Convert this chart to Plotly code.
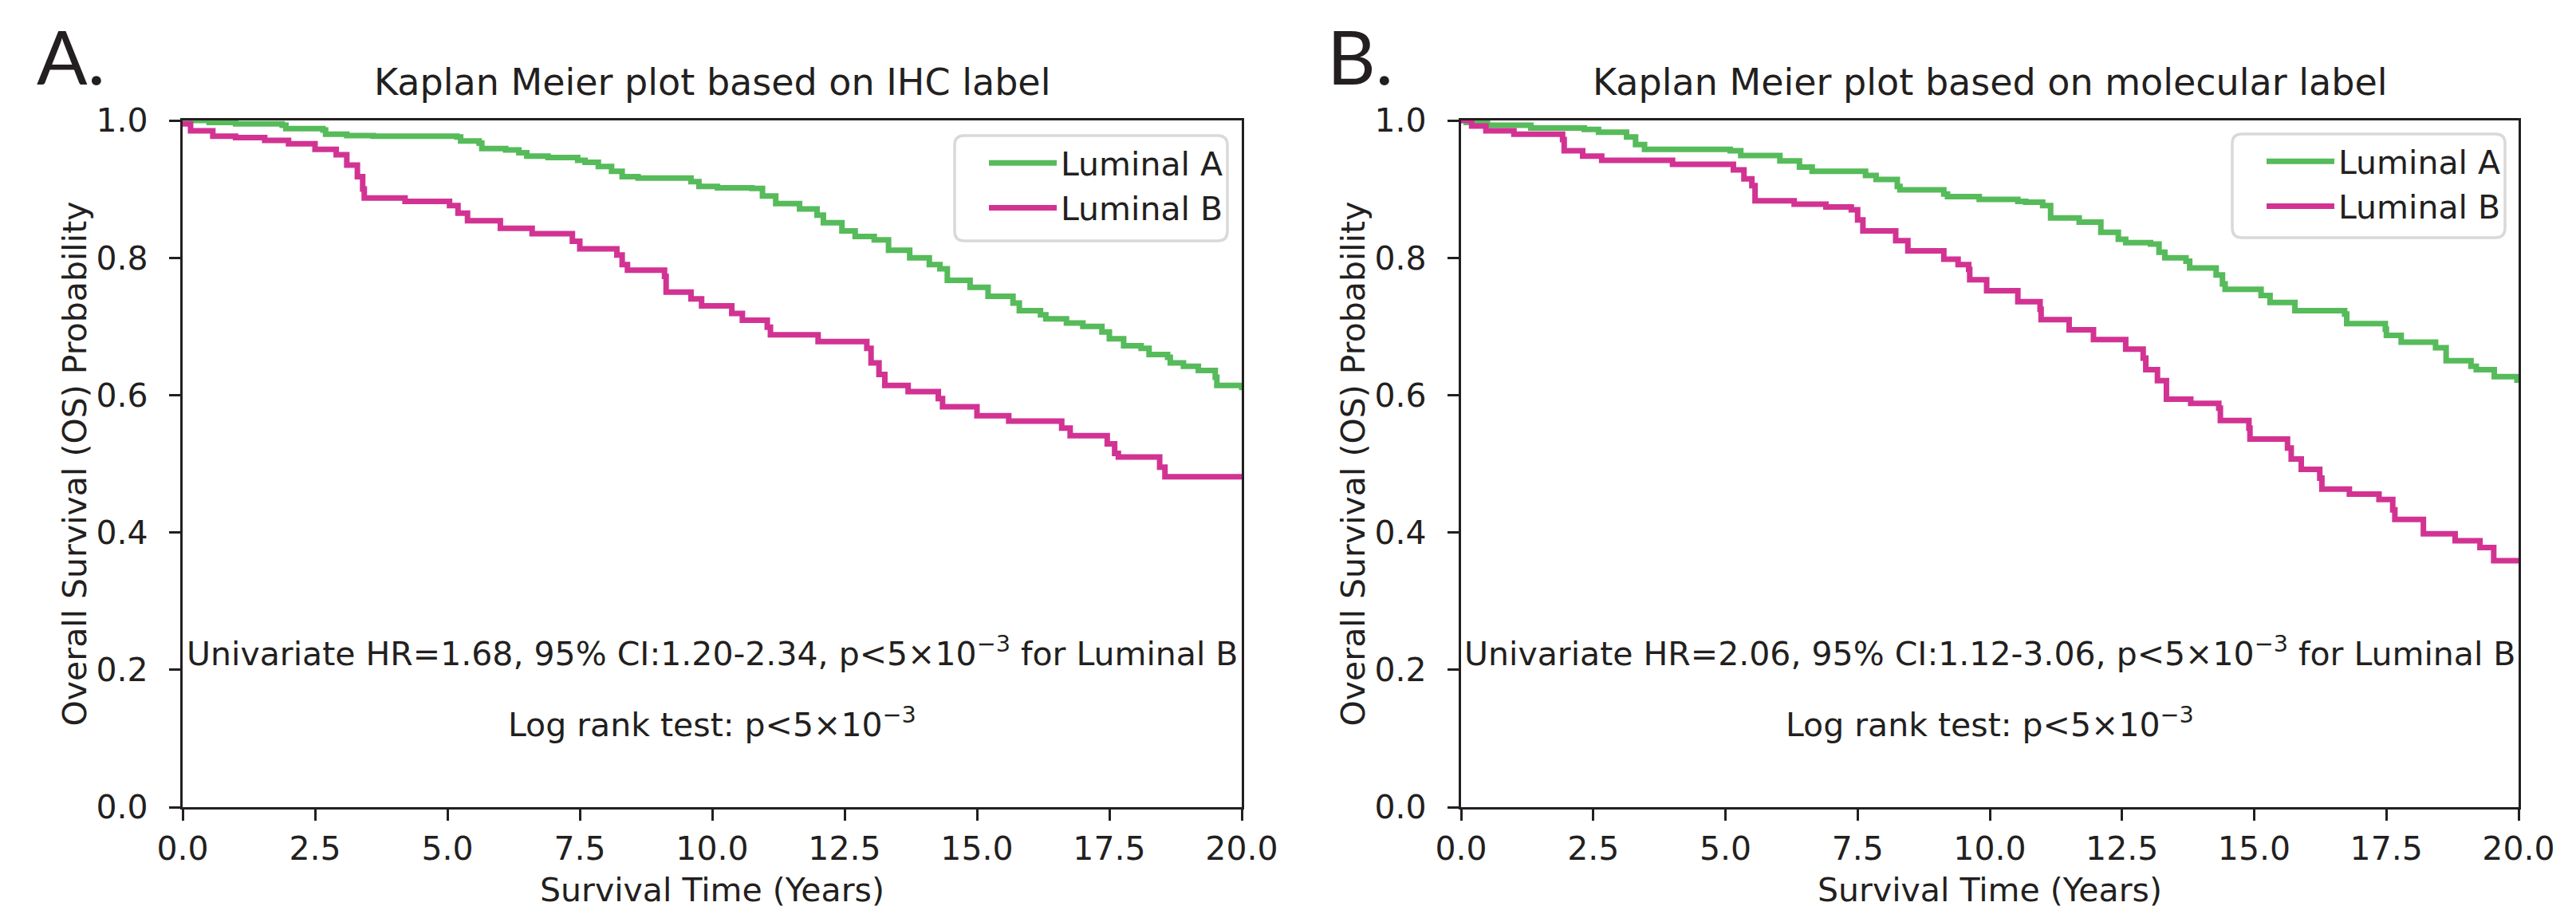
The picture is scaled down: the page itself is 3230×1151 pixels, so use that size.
import plotly.graph_objects as go

# ---------------- data ----------------
# Panel A: IHC label
a_lumA_t = [0, 0.5, 1.0, 1.88, 1.95, 2.65, 2.7, 3.1, 3.6, 4.3, 5.18, 5.25, 5.6, 5.65, 6.1, 6.35, 6.5, 6.9,
            7.46, 7.6, 7.85, 8.1, 8.3, 8.6, 9.6, 9.75, 10.1, 10.75, 10.95, 11.2, 11.65, 11.98, 12.1, 12.45,
            12.7, 13.06, 13.33, 13.73, 14.1, 14.3, 14.44, 14.87, 15.21, 15.68, 15.8, 16.2, 16.3, 16.69, 17.0,
            17.36, 17.5, 17.77, 18.1, 18.25, 18.6, 18.65, 18.9, 19.18, 19.5, 19.53, 19.95, 20.0]
a_lumA_s = [1.0, 0.997, 0.995, 0.993, 0.988, 0.986, 0.980, 0.978, 0.977, 0.977, 0.976, 0.970, 0.967, 0.959,
            0.957, 0.953, 0.948, 0.946, 0.942, 0.939, 0.933, 0.926, 0.918, 0.916, 0.911, 0.904, 0.902, 0.901,
            0.890, 0.879, 0.871, 0.862, 0.851, 0.839, 0.831, 0.826, 0.811, 0.800, 0.790, 0.784, 0.767, 0.757,
            0.744, 0.734, 0.723, 0.717, 0.711, 0.705, 0.700, 0.692, 0.682, 0.672, 0.668, 0.659, 0.655, 0.647,
            0.642, 0.636, 0.626, 0.614, 0.614, 0.607]

a_lumB_t = [0, 0.15, 0.57, 1.0, 1.55, 2.0, 2.5, 2.9, 3.1, 3.3, 3.4, 3.43, 4.2, 5.04, 5.2, 5.38, 6.0, 6.6,
            7.36, 7.5, 8.2, 8.3, 8.4, 9.1, 9.13, 9.6, 9.8, 10.37, 10.57, 11.04, 11.1, 12.0, 12.92, 13.0,
            13.15, 13.26, 13.7, 14.27, 14.35, 15.0, 15.6, 16.49, 16.6, 16.76, 17.46, 17.6, 17.67, 18.3,
            18.45, 18.55, 20.0]
a_lumB_s = [0.995, 0.985, 0.977, 0.975, 0.971, 0.966, 0.958, 0.950, 0.935, 0.918, 0.900, 0.887, 0.882,
            0.876, 0.865, 0.854, 0.843, 0.835, 0.824, 0.813, 0.804, 0.790, 0.782, 0.773, 0.750, 0.740,
            0.730, 0.719, 0.709, 0.699, 0.688, 0.678, 0.668, 0.647, 0.630, 0.614, 0.605, 0.595, 0.583,
            0.570, 0.562, 0.562, 0.552, 0.541, 0.529, 0.515, 0.510, 0.510, 0.495, 0.481, 0.481]

# Panel B: molecular label
b_lumA_t = [0, 0.1, 0.5, 1.32, 2.33, 2.6, 3.13, 3.3, 3.47, 5.09, 5.29, 6.03, 6.4, 6.64, 7.65, 7.85, 8.25,
            8.3, 9.13, 9.2, 9.8, 10.53, 10.68, 11.0, 11.15, 11.69, 12.1, 12.43, 12.57, 13.04, 13.2, 13.31,
            13.71, 13.78, 14.28, 14.4, 14.45, 15.13, 15.3, 15.77, 16.71, 16.75, 17.48, 17.5, 17.78, 18.43,
            18.63, 19.1, 19.2, 19.54, 19.97, 20.0]
b_lumA_s = [1.0, 0.997, 0.993, 0.989, 0.987, 0.983, 0.976, 0.965, 0.958, 0.956, 0.949, 0.941, 0.932,
            0.926, 0.920, 0.914, 0.904, 0.899, 0.893, 0.889, 0.885, 0.882, 0.881, 0.876, 0.858, 0.852,
            0.837, 0.827, 0.822, 0.820, 0.808, 0.800, 0.795, 0.785, 0.775, 0.762, 0.754, 0.745, 0.735,
            0.723, 0.718, 0.704, 0.696, 0.687, 0.677, 0.669, 0.650, 0.642, 0.637, 0.627, 0.622, 0.622]

b_lumB_t = [0, 0.2, 0.47, 1.0, 1.92, 1.95, 2.3, 2.66, 4.0, 5.15, 5.35, 5.5, 5.56, 6.3, 6.9, 7.38, 7.5,
            7.6, 8.22, 8.45, 9.13, 9.4, 9.6, 9.62, 9.94, 10.53, 10.95, 10.97, 11.5, 11.96, 12.57, 12.9,
            12.95, 13.17, 13.34, 13.8, 14.33, 14.36, 14.9, 14.92, 15.63, 15.7, 15.89, 16.24, 16.28, 16.8,
            17.36, 17.62, 17.66, 18.1, 18.2, 18.8, 19.27, 19.53, 20.0]
b_lumB_s = [1.0, 0.992, 0.985, 0.980, 0.972, 0.956, 0.948, 0.942, 0.936, 0.928, 0.915, 0.905, 0.883,
            0.878, 0.874, 0.870, 0.855, 0.839, 0.825, 0.810, 0.798, 0.790, 0.783, 0.768, 0.752, 0.736,
            0.725, 0.710, 0.695, 0.681, 0.667, 0.654, 0.637, 0.621, 0.594, 0.588, 0.581, 0.563, 0.552,
            0.536, 0.523, 0.507, 0.492, 0.479, 0.463, 0.456, 0.448, 0.433, 0.419, 0.419, 0.398, 0.388,
            0.378, 0.359, 0.359]

series_names = ["Luminal A", "Luminal B"]
panel_titles = ["Kaplan Meier plot based on IHC label", "Kaplan Meier plot based on molecular label"]
panel_letters = ["A.", "B."]
hr_texts = ["Univariate HR=1.68, 95% CI:1.20-2.34, p&lt;5×10<sup>−3</sup> for Luminal B",
            "Univariate HR=2.06, 95% CI:1.12-3.06, p&lt;5×10<sup>−3</sup> for Luminal B"]
logrank_texts = ["Log rank test: p&lt;5×10<sup>−3</sup>", "Log rank test: p&lt;5×10<sup>−3</sup>"]
x_ticks = [0, 2.5, 5, 7.5, 10, 12.5, 15, 17.5, 20]
x_ticktext = ["0.0", "2.5", "5.0", "7.5", "10.0", "12.5", "15.0", "17.5", "20.0"]
y_ticks = [0, 0.2, 0.4, 0.6, 0.8, 1.0]
y_ticktext = ["0.0", "0.2", "0.4", "0.6", "0.8", "1.0"]

# ---------------- styling ----------------
W, H = 3230, 1151
GREEN = "#56bb5a"
MAGENTA = "#d23393"
INK = "#231f20"
FONT = "DejaVu Sans"
colors = [GREEN, MAGENTA]

# axes pixel boxes (left, right) and shared top/bottom
x_px = [(229, 1557), (1832, 3158)]
y_top, y_bot = 151, 1012

fig = go.Figure()

data = [[(a_lumA_t, a_lumA_s), (a_lumB_t, a_lumB_s)],
        [(b_lumA_t, b_lumA_s), (b_lumB_t, b_lumB_s)]]

for p in range(2):
    xa = "x" if p == 0 else "x2"
    ya = "y" if p == 0 else "y2"
    for k in range(2):
        t, s = data[p][k]
        fig.add_trace(go.Scatter(
            x=t, y=s, mode="lines", line=dict(color=colors[k], width=7, shape="hv"),
            name=series_names[k], xaxis=xa, yaxis=ya,
            legend="legend" if p == 0 else "legend2", showlegend=True))

axis_common = dict(showline=True, linecolor=INK, linewidth=3.4, mirror=True, ticks="outside",
                   ticklen=14, tickwidth=3.4, tickcolor=INK, showgrid=False, zeroline=False,
                   automargin=False,
                   tickfont=dict(family=FONT, size=41, color=INK))

layout = dict(width=W, height=H, margin=dict(l=0, r=0, t=0, b=0, autoexpand=False),
              template="none",
              paper_bgcolor="white", plot_bgcolor="white",
              font=dict(family=FONT, size=41, color=INK))

for p in range(2):
    sx = "" if p == 0 else "2"
    l, r = x_px[p]
    layout["xaxis" + sx] = dict(axis_common, domain=[l / W, r / W], range=[0, 20],
                                tickvals=x_ticks, ticktext=x_ticktext, ticklabelstandoff=0,
                                anchor="y" + sx,
                                title=dict(text="Survival Time (Years)", standoff=14,
                                           font=dict(family=FONT, size=41, color=INK)))
    layout["yaxis" + sx] = dict(axis_common, domain=[(H - y_bot) / H, (H - y_top) / H], range=[0, 1],
                                tickvals=y_ticks, ticktext=y_ticktext, ticklabelstandoff=18,
                                anchor="x" + sx,
                                title=dict(text="Overall Survival (OS) Probability", standoff=0,
                                           font=dict(family=FONT, size=41, color=INK)))

# legends (frame drawn as rounded shape)
leg_boxes = [(1197, 1539, 170, 302), (2799, 3141, 168, 298)]
for p in range(2):
    key = "legend" if p == 0 else "legend2"
    x0, x1, y0, y1 = leg_boxes[p]
    layout[key] = dict(x=x1 / W, y=(H - y0 - 1) / H, xanchor="right", yanchor="top",
                       bgcolor="rgba(0,0,0,0)", borderwidth=0, itemwidth=85,
                       font=dict(family=FONT, size=41, color=INK), tracegroupgap=0)

shapes = []
rad = 12
for (x0, x1, y0, y1) in leg_boxes:
    def P(x, y):
        return f"{x / W:.6f},{(H - y) / H:.6f}"
    path = (f"M{P(x0 + rad, y0)} L{P(x1 - rad, y0)} Q{P(x1, y0)} {P(x1, y0 + rad)} "
            f"L{P(x1, y1 - rad)} Q{P(x1, y1)} {P(x1 - rad, y1)} L{P(x0 + rad, y1)} "
            f"Q{P(x0, y1)} {P(x0, y1 - rad)} L{P(x0, y0 + rad)} Q{P(x0, y0)} {P(x0 + rad, y0)} Z")
    shapes.append(dict(type="path", path=path, xref="paper", yref="paper",
                       line=dict(color="#d9d9d9", width=3.5), fillcolor="rgba(255,255,255,0.8)",
                       layer="above"))
layout["shapes"] = shapes

annotations = []
letter_x = [44, 1662]
for p in range(2):
    sx = "" if p == 0 else "2"
    l, r = x_px[p]
    annotations.append(dict(text=panel_titles[p], xref="paper", yref="paper",
                            x=(l + r) / 2 / W, y=(H - 103) / H, xanchor="center", yanchor="middle",
                            showarrow=False, font=dict(family=FONT, size=46, color=INK)))
    annotations.append(dict(text=panel_letters[p], xref="paper", yref="paper",
                            x=letter_x[p] / W, y=(H - 70) / H, xanchor="left", yanchor="middle",
                            showarrow=False, font=dict(family="Lato", size=94, color=INK)))
    annotations.append(dict(text=hr_texts[p], xref="x" + sx, yref="y" + sx, x=10, y=0.226,
                            xanchor="center", yanchor="middle", showarrow=False,
                            font=dict(family=FONT, size=41, color=INK)))
    annotations.append(dict(text=logrank_texts[p], xref="x" + sx, yref="y" + sx, x=10, y=0.123,
                            xanchor="center", yanchor="middle", showarrow=False,
                            font=dict(family=FONT, size=41, color=INK)))
layout["annotations"] = annotations

fig.update_layout(**layout)
fig.write_html("out.html", config={"displayModeBar": False},
               post_script="document.body.style.margin='0px';")
